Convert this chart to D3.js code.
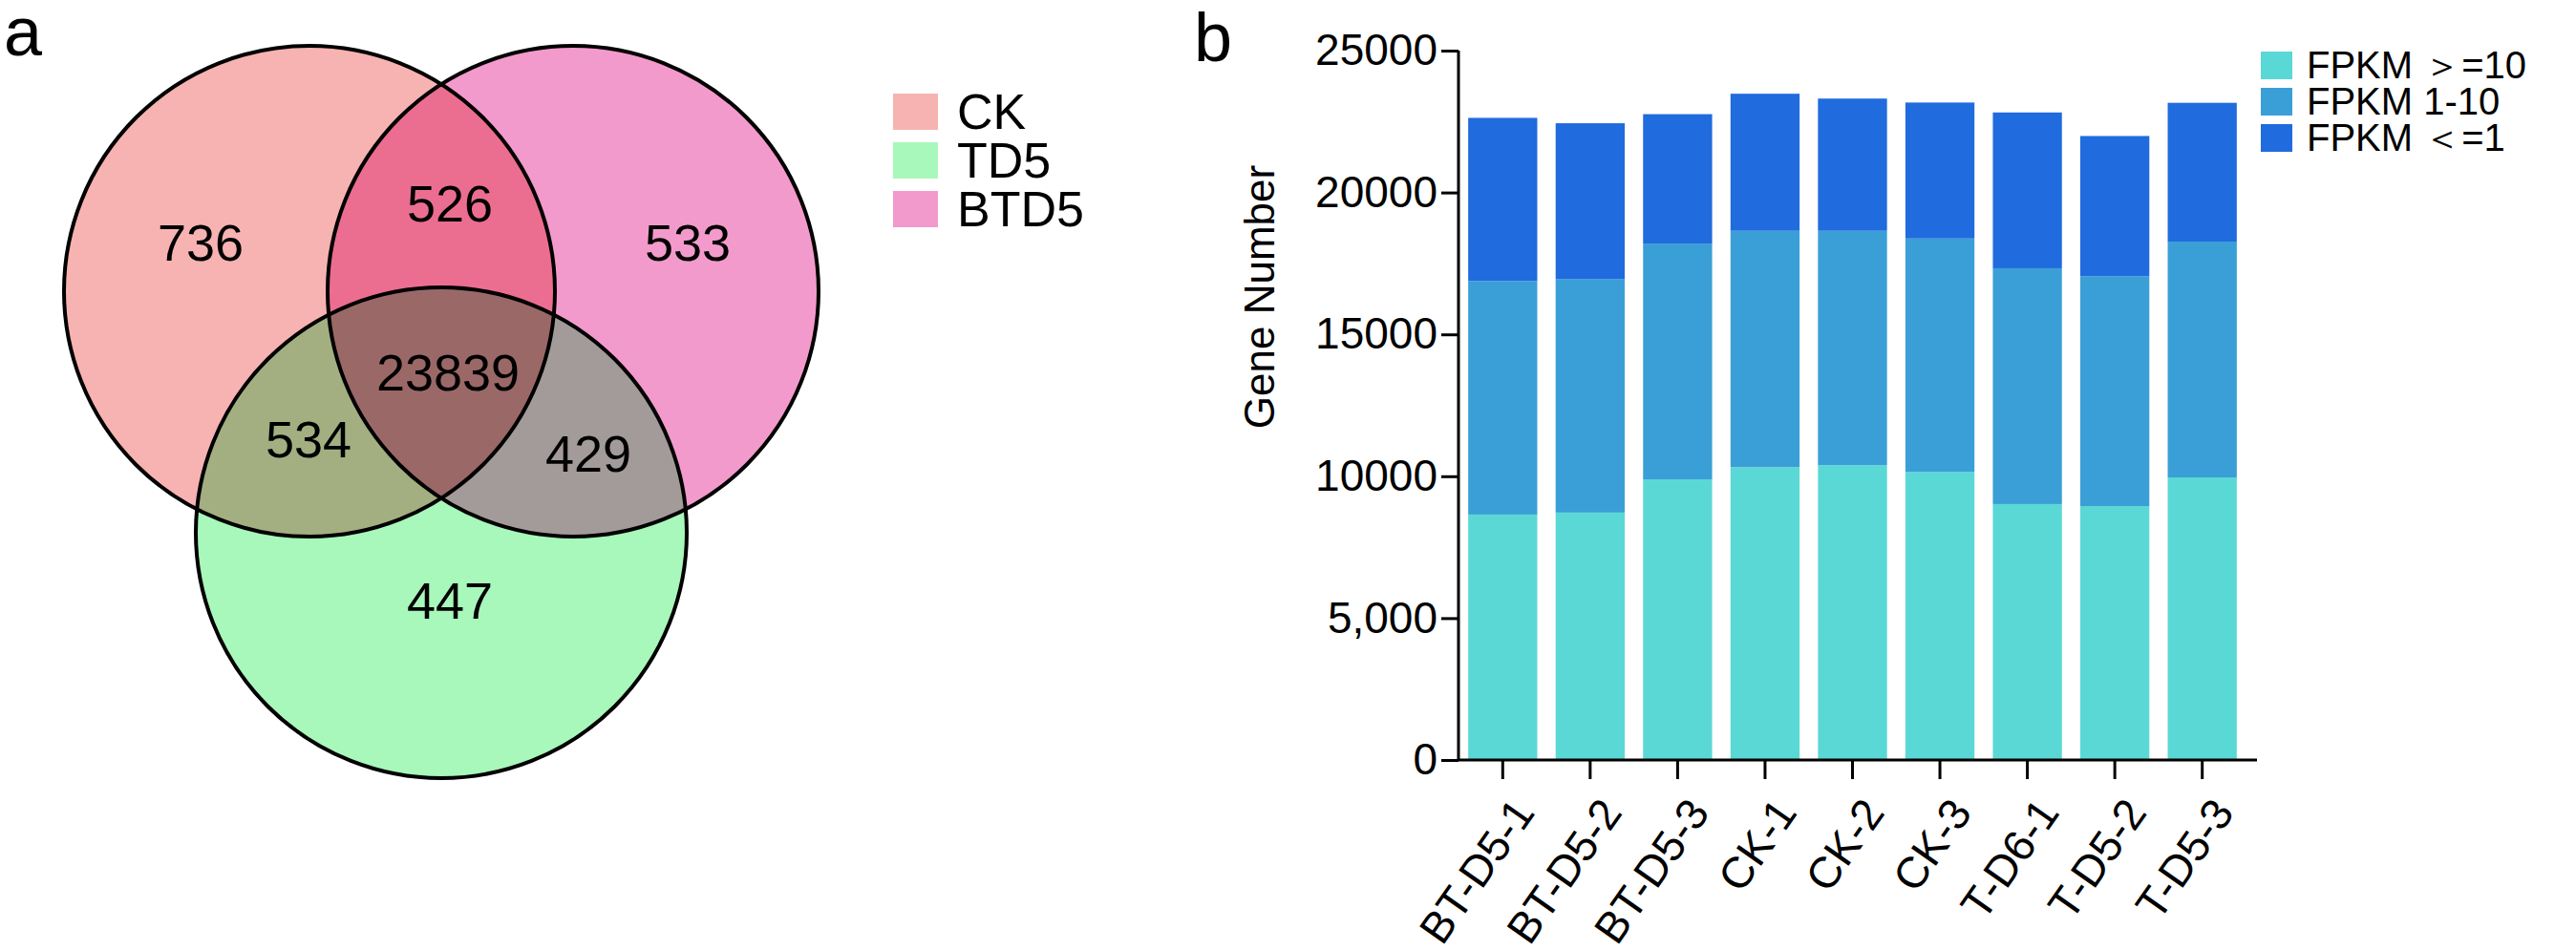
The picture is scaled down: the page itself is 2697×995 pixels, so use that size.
<!DOCTYPE html>
<html><head><meta charset="utf-8">
<script src="https://cdn.jsdelivr.net/npm/d3@7"></script>
<style>body{margin:0;background:#fff}text{font-family:"Liberation Sans Narrow","Arial Narrow","Liberation Sans",Arial,sans-serif}</style>
</head><body><div id="chart"></div>
<script>
// venn data
var vennSets = ['CK', 'TD5', 'BTD5']
var vennColors = ['#F7B3B1', '#A8F7BB', '#F39ACC']
var vennRegions = ['736', '533', '447', '526', '534', '429', '23839']

// bar data
var samples = ['BT-D5-1','BT-D5-2','BT-D5-3','CK-1','CK-2','CK-3','T-D6-1','T-D5-2','T-D5-3']
var seriesNames = ['FPKM \uFF1E=10', 'FPKM 1-10', 'FPKM \uFF1C=1']
var high = [8650, 8720, 9890, 10320, 10390, 10150, 9020, 8950, 9960]
var mid = [8230, 8220, 8310, 8330, 8260, 8230, 8310, 8100, 8310]
var low = [5750, 5500, 4560, 4830, 4660, 4790, 5490, 4940, 4890]
var yTicks = [0, 5000, 10000, 15000, 20000, 25000]
var yTickLabels = ['0', '5,000', '10000', '15000', '20000', '25000']
var barColors = ['#5AD8D6', '#3A9FD6', '#206BDD']

var svg = d3.select('#chart').append('svg').attr('width', 2697).attr('height', 995)

// ---- panel a: venn
svg.append('text').attr('x', 4).attr('y', 58).attr('font-size', 72).text('a')
var circles = [{cx: 324, cy: 305}, {cx: 462, cy: 558}, {cx: 600, cy: 305}]
var r = 257
var defs = svg.append('defs')
circles.forEach(function(c, i){
  defs.append('clipPath').attr('id', 'clip' + i)
    .append('circle').attr('cx', c.cx).attr('cy', c.cy).attr('r', r)
})
var va = svg.append('g')
circles.forEach(function(c, i){
  va.append('circle').attr('cx', c.cx).attr('cy', c.cy).attr('r', r).attr('fill', vennColors[i])
})
// pairwise overlaps
function overlap(a, b, col){
  va.append('g').attr('clip-path', 'url(#clip' + b + ')')
    .append('circle').attr('cx', circles[a].cx).attr('cy', circles[a].cy).attr('r', r).attr('fill', col)
}
overlap(0, 2, '#EB6E90')
overlap(0, 1, '#A3AF81')
overlap(2, 1, '#A39A9A')
va.append('g').attr('clip-path', 'url(#clip0)')
  .append('g').attr('clip-path', 'url(#clip2)')
  .append('circle').attr('cx', circles[1].cx).attr('cy', circles[1].cy).attr('r', r).attr('fill', '#9B6868')
circles.forEach(function(c){
  va.append('circle').attr('cx', c.cx).attr('cy', c.cy).attr('r', r)
    .attr('fill', 'none').attr('stroke', '#000').attr('stroke-width', 4)
})
var labelPos = [[210, 254], [720, 254], [471, 629], [471, 213], [323, 460], [616, 475], [469, 390]]
vennRegions.forEach(function(t, i){
  va.append('text').attr('x', labelPos[i][0]).attr('y', labelPos[i][1] + 19)
    .attr('text-anchor', 'middle').attr('font-size', 54).text(t)
})
var legA = svg.append('g')
;[0, 1, 2].forEach(function(k, j){
  legA.append('rect').attr('x', 935).attr('y', 98 + j * 51).attr('width', 47).attr('height', 38).attr('fill', vennColors[k])
  legA.append('text').attr('x', 1002).attr('y', 135 + j * 51).attr('font-size', 52).text(vennSets[k])
})

// ---- panel b: stacked bars
svg.append('text').attr('x', 1250).attr('y', 64).attr('font-size', 72).text('b')
var y = d3.scaleLinear().domain([0, 25000]).range([796, 53])
var x = d3.scaleBand().domain(samples).range([1528, 2351]).paddingInner(0.21).paddingOuter(0.1)
var rows = samples.map(function(s, i){ return {s: s, high: high[i], mid: mid[i], low: low[i]} })
var stack = d3.stack().keys(['high', 'mid', 'low'])(rows)
svg.append('g').selectAll('g').data(stack).enter().append('g')
  .attr('fill', function(d, i){ return barColors[i] })
  .selectAll('rect').data(function(d){ return d }).enter().append('rect')
  .attr('x', function(d){ return x(d.data.s) })
  .attr('width', x.bandwidth())
  .attr('y', function(d){ return y(d[1]) })
  .attr('height', function(d){ return y(d[0]) - y(d[1]) })

var yAxis = svg.append('g').attr('transform', 'translate(1527,0)')
  .call(d3.axisLeft(y).tickValues(yTicks).tickFormat(function(d, i){ return yTickLabels[i] }).tickSize(18).tickPadding(4))
yAxis.selectAll('text').attr('font-size', 46).attr('fill', '#000')
yAxis.selectAll('line,path').attr('stroke', '#000').attr('stroke-width', 3)
yAxis.select('path').attr('d', 'M0,796V53')

var xAxis = svg.append('g').attr('transform', 'translate(0,796)')
  .call(d3.axisBottom(x).tickSize(20).tickSizeOuter(0))
xAxis.select('path').attr('d', 'M1527,0H2363')
xAxis.selectAll('line,path').attr('stroke', '#000').attr('stroke-width', 3)
xAxis.selectAll('text').attr('font-size', 46).attr('fill', '#000')
  .attr('text-anchor', 'end').attr('dx', 0).attr('dy', 0)
  .attr('transform', 'translate(16,42) rotate(-55)')

svg.append('text').attr('transform', 'translate(1334,311) rotate(-90)')
  .attr('text-anchor', 'middle').attr('font-size', 44).text('Gene Number')

var legB = svg.append('g')
seriesNames.forEach(function(n, i){
  legB.append('rect').attr('x', 2367).attr('y', 54 + i * 38).attr('width', 33).attr('height', 29).attr('fill', barColors[i])
  legB.append('text').attr('x', 2415).attr('y', 82 + i * 38).attr('font-size', 40).text(n)
})
</script></body></html>
